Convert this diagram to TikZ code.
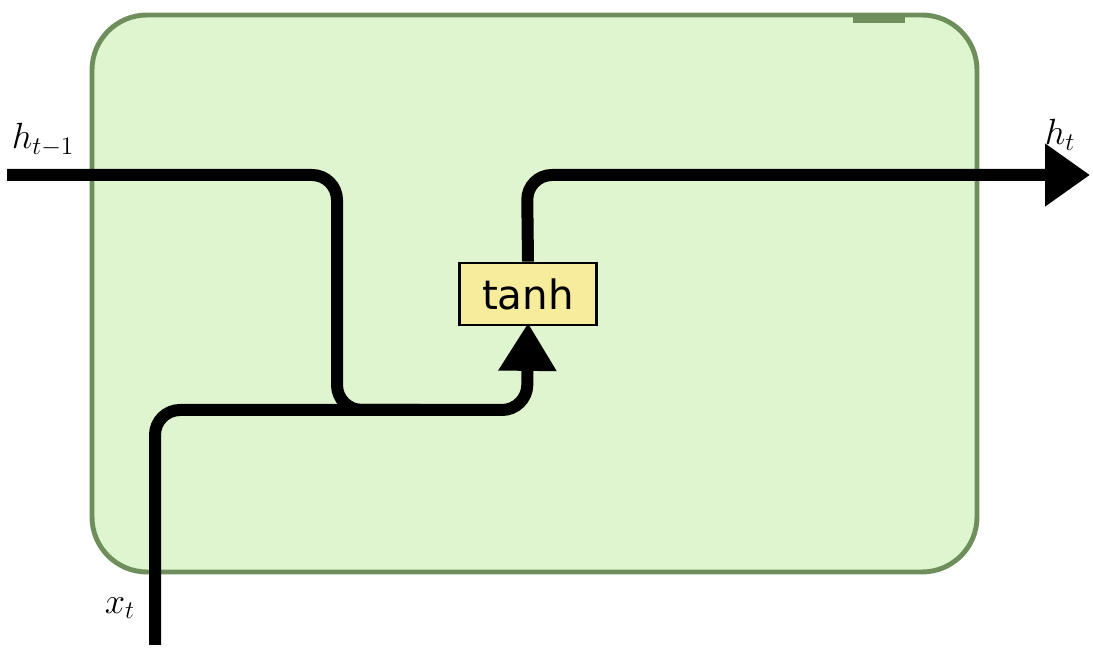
\documentclass[tikz,border=0pt]{standalone}
\usepackage{fontspec}
\newfontfamily\gatefont{DejaVu Sans}
\usetikzlibrary{arrows.meta}
\definecolor{cellfill}{HTML}{DFF5CF}
\definecolor{celledge}{HTML}{6E8F5B}
\definecolor{gatefill}{HTML}{F7EB9C}
\begin{document}
\begin{tikzpicture}[x=0.02cm,y=-0.02cm,
    wire/.style={line width=0.24cm,rounded corners=0.5cm},
    gate/.style={draw,line width=1.6pt,fill=gatefill,minimum width=2.74cm,minimum height=1.24cm,inner sep=0pt,font=\gatefont\fontsize{23}{23}\selectfont},
    lbl/.style={font=\fontsize{22}{22}\selectfont}]
      \useasboundingbox (0,0) rectangle (1093,658);
      \draw[celledge,line width=2.8pt,fill=cellfill,rounded corners=1.1cm] (92,15) rectangle (977,572);
      \fill[celledge] (853,13) rectangle (905,23);

      \node[gate] (tanh) at (528,294) {tanh};
      \coordinate (hin) at (7,175);
      \coordinate (xin) at (155,645);
      \coordinate (hout) at (1090,175);

      \draw[wire] (hin) -- (337,175) -- (337,410) -- (420,410);
      \draw[wire,-{Triangle[length=0.96cm,width=1.1cm]},shorten >=-2pt] (xin) -- (155,410) -- (527,410) -- (tanh.south);
      \draw[wire,-{Triangle[length=0.9cm,width=1.2cm]}] (tanh.north) -- (527,175) -- (hout);

      \node[lbl] (hlast) at (43,140) {$h_{t-1}$};
      \node[lbl] (xt) at (120,608) {$x_t$};
      \node[lbl] (ht) at (1060,135) {$h_t$};
    \end{tikzpicture}
\end{document}
